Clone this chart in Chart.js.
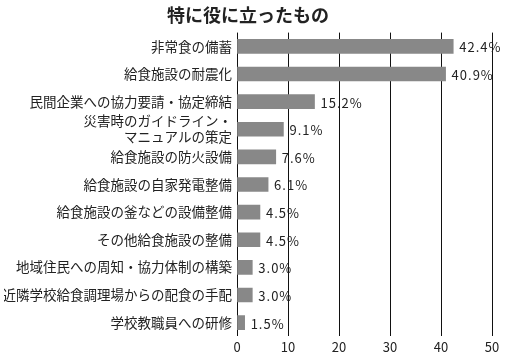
<html lang="ja">
  <head>
    <meta charset="UTF-8" />
    <title>特に役に立ったもの</title>
    <style>
      body { margin: 0; background: #fff; }
      .container { width: 507px; height: 358px; }
    </style>
  </head>
  <body>
    <div class="container">
      <canvas id="myChart"></canvas>
    </div>
  </body>
  <script src="https://cdn.jsdelivr.net/npm/chart.js@4"></script>
  <script>
    const categories = [
      "非常食の備蓄",
      "給食施設の耐震化",
      "民間企業への協力要請・協定締結",
      ["災害時のガイドライン・", "マニュアルの策定"],
      "給食施設の防火設備",
      "給食施設の自家発電整備",
      "給食施設の釜などの設備整備",
      "その他給食施設の整備",
      "地域住民への周知・協力体制の構築",
      "近隣学校給食調理場からの配食の手配",
      "学校教職員への研修",
    ];
    const values = [42.4, 40.9, 15.2, 9.1, 7.6, 6.1, 4.5, 4.5, 3.0, 3.0, 1.5];
    const xTicks = [0, 10, 20, 30, 40, 50];

    const jpFont = "'Noto Sans CJK JP', 'Noto Sans', sans-serif";

    // percent labels to the right of each bar
    const valueLabels = {
      id: "valueLabels",
      afterDatasetsDraw(chart) {
        const ctx = chart.ctx;
        const meta = chart.getDatasetMeta(0);
        ctx.save();
        ctx.font = "13px " + jpFont;
        ctx.fillStyle = "#222";
        ctx.textBaseline = "middle";
        ctx.letterSpacing = "1px";
        meta.data.forEach(function (bar, i) {
          ctx.fillText(values[i].toFixed(1) + "%", bar.x + 6, bar.y + 1);
        });
        ctx.restore();
      },
    };

    var ctx = document.getElementById("myChart").getContext("2d");
    var myChart = new Chart(ctx, {
      type: "bar",
      data: {
        labels: categories,
        datasets: [
          {
            data: values,
            backgroundColor: "#888888",
            barThickness: 14,
          },
        ],
      },
      options: {
        indexAxis: "y",
        responsive: true,
        maintainAspectRatio: false,
        animation: false,
        layout: { padding: { left: 4, right: 15, top: 0, bottom: 0 } },
        plugins: {
          legend: { display: false },
          tooltip: { enabled: false },
          title: {
            display: true,
            text: "特に役に立ったもの",
            color: "#222",
            font: { family: jpFont, size: 18, weight: "bold" },
            padding: { top: 4, bottom: 7 },
          },
        },
        scales: {
          x: {
            min: 0,
            max: 50,
            afterBuildTicks(scale) {
              scale.ticks = xTicks.map((v) => ({ value: v }));
            },
            grid: { color: "#111", lineWidth: 1, drawTicks: false },
            border: { display: false },
            ticks: {
              color: "#222",
              padding: 3,
              font: { family: jpFont, size: 13 },
            },
          },
          y: {
            grid: { display: false, drawTicks: false },
            border: { display: false },
            afterFit(scale) {
              scale.width = 233;
            },
            ticks: {
              color: "#222",
              padding: 5,
              autoSkip: false,
              font: { family: jpFont, size: 13.5 },
            },
          },
        },
      },
      plugins: [valueLabels],
    });
  </script>
</html>
